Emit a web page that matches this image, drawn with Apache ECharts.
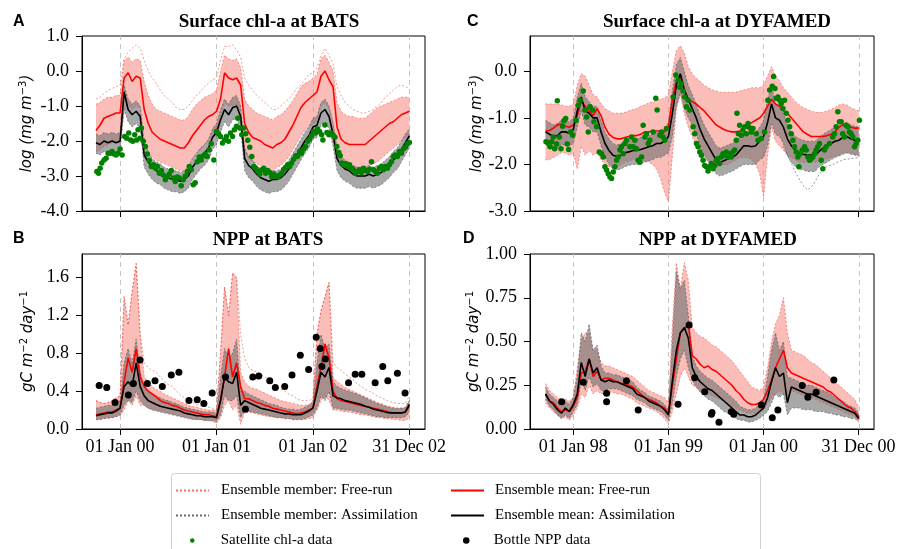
<!DOCTYPE html>
<html><head><meta charset="utf-8">
<script src="https://cdn.jsdelivr.net/npm/echarts@6/dist/echarts.min.js"></script>
<style>html,body{margin:0;padding:0;background:#fff}#c{width:899px;height:549px}</style>
</head><body><div id="c"></div>
<script>
// ---------- time grids (decimal years, semi-monthly) ----------
function grid24(start, n, end){ const a=[]; for(let i=0;i<n;i++) a.push(+(start+i/24).toFixed(4)); a.push(end); return a; }
const batsX = grid24(1999.75, 78, 2003.0);     // 01 Oct 1999 .. 31 Dec 2002
const dyfX  = grid24(1997.7083, 79, 2001.0);   // 16 Sep 1997 .. 31 Dec 2000

const batsTicks=[2000,2001,2002,2002.9973], batsLabels=['01 Jan 00','01 Jan 01','01 Jan 02','31 Dec 02'];
const dyfTicks=[1998,1999,2000,2000.9973],  dyfLabels=['01 Jan 98','01 Jan 99','01 Jan 00','31 Dec 00'];

// ---------- A: surface chl-a at BATS (log) ----------
const fmA=[-1.70,-1.55,-1.35,-1.30,-1.25,-1.20,-1.20,-0.20,-0.05,-0.30,-0.15,-0.20,-1.10,-1.50,-1.75,-1.85,-1.95,-2.00,-2.05,-2.10,-2.15,-2.20,-2.20,-2.05,-1.85,-1.70,-1.55,-1.40,-1.30,-1.25,
-1.15,-0.80,-0.05,-0.20,-0.25,-0.20,-0.40,-1.50,-1.75,-1.90,-1.95,-2.00,-2.10,-2.15,-2.20,-2.10,-2.05,-1.95,-1.75,-1.55,-1.30,-1.05,-0.90,-0.80,
-0.70,-0.60,-0.15,0.00,-0.25,-0.45,-1.60,-1.95,-2.05,-2.10,-2.10,-2.10,-2.10,-2.10,-2.00,-1.90,-1.80,-1.70,-1.60,-1.50,-1.45,-1.35,-1.25,-1.20,-1.15];
const amA=[-2.05,-2.10,-2.00,-2.05,-2.00,-2.05,-2.00,-0.60,-1.10,-1.25,-1.15,-1.30,-2.40,-2.60,-2.75,-2.85,-2.90,-3.00,-3.05,-3.10,-3.10,-3.15,-3.10,-3.00,-2.75,-2.60,-2.45,-2.35,-2.20,-1.90,
-1.75,-1.40,-1.10,-1.25,-1.05,-1.00,-1.30,-2.50,-2.70,-2.80,-2.95,-3.05,-3.10,-3.15,-3.10,-3.10,-3.05,-2.95,-2.80,-2.60,-2.40,-2.20,-2.00,-1.85,
-1.60,-1.55,-1.20,-1.10,-1.30,-1.80,-2.50,-2.70,-2.80,-2.85,-2.95,-3.00,-3.00,-3.00,-2.95,-3.00,-2.95,-2.90,-2.80,-2.70,-2.55,-2.45,-2.25,-2.05,-1.85];
const fhA=[-0.95,-0.90,-0.80,-0.75,-0.75,-0.70,-0.70,0.30,0.40,0.25,0.35,0.30,-0.30,-0.70,-0.95,-1.10,-1.15,-1.20,-1.25,-1.30,-1.35,-1.40,-1.40,-1.30,-1.10,-0.95,-0.85,-0.75,-0.70,-0.65,
-0.55,0.00,0.45,0.35,0.30,0.35,0.10,-0.80,-1.00,-1.10,-1.20,-1.25,-1.30,-1.35,-1.40,-1.30,-1.25,-1.15,-1.00,-0.85,-0.65,-0.45,-0.35,-0.30,
-0.20,-0.10,0.35,0.45,0.25,0.00,-0.90,-1.15,-1.25,-1.30,-1.30,-1.35,-1.35,-1.35,-1.25,-1.15,-1.05,-1.00,-0.95,-0.90,-0.85,-0.80,-0.75,-0.75,-0.75];
const flA=[-2.30,-2.25,-2.15,-2.10,-2.05,-2.05,-2.05,-1.10,-0.95,-1.10,-1.00,-1.05,-2.00,-2.30,-2.45,-2.55,-2.60,-2.65,-2.70,-2.75,-2.80,-2.85,-2.85,-2.70,-2.50,-2.35,-2.25,-2.10,-2.00,-1.90,
-1.80,-1.30,-0.90,-1.00,-1.00,-0.95,-1.20,-2.30,-2.50,-2.60,-2.65,-2.70,-2.75,-2.80,-2.85,-2.75,-2.70,-2.60,-2.45,-2.25,-2.05,-1.85,-1.70,-1.60,
-1.50,-1.45,-1.00,-0.90,-1.10,-1.50,-2.30,-2.60,-2.70,-2.70,-2.75,-2.75,-2.75,-2.75,-2.70,-2.65,-2.60,-2.50,-2.40,-2.30,-2.20,-2.10,-2.00,-1.90,-1.80];
const foA=[-0.80,-0.75,-0.65,-0.55,-0.50,-0.45,-0.40,0.35,0.55,0.65,0.75,0.65,0.30,0.00,-0.20,-0.35,-0.55,-0.70,-0.80,-0.90,-1.05,-1.10,-1.10,-1.00,-0.85,-0.70,-0.60,-0.45,-0.35,-0.25,
-0.20,0.30,0.70,0.70,0.75,0.60,0.40,-0.20,-0.40,-0.55,-0.70,-0.80,-0.90,-1.00,-1.10,-1.10,-1.00,-0.90,-0.80,-0.65,-0.50,-0.40,-0.25,-0.10,
-0.05,0.10,0.45,0.65,0.45,0.20,-0.45,-0.70,-0.90,-1.00,-1.10,-1.15,-1.20,-1.20,-1.15,-1.10,-1.00,-0.90,-0.75,-0.65,-0.55,-0.45,-0.40,-0.45,-0.50];
const ahA=[-1.80,-1.85,-1.75,-1.80,-1.75,-1.80,-1.75,-0.40,-0.80,-0.95,-0.85,-1.00,-2.05,-2.30,-2.50,-2.60,-2.65,-2.75,-2.80,-2.85,-2.85,-2.90,-2.85,-2.75,-2.50,-2.35,-2.20,-2.10,-1.95,-1.65,
-1.50,-1.10,-0.80,-0.95,-0.75,-0.70,-1.00,-2.20,-2.45,-2.55,-2.70,-2.80,-2.85,-2.90,-2.85,-2.85,-2.80,-2.70,-2.55,-2.35,-2.15,-1.95,-1.75,-1.60,
-1.35,-1.30,-0.90,-0.80,-1.00,-1.50,-2.20,-2.45,-2.55,-2.60,-2.70,-2.75,-2.75,-2.75,-2.70,-2.75,-2.70,-2.65,-2.55,-2.45,-2.30,-2.20,-2.00,-1.80,-1.65];
const alA=[-2.35,-2.40,-2.30,-2.35,-2.30,-2.35,-2.30,-1.10,-1.45,-1.60,-1.50,-1.65,-2.75,-2.95,-3.10,-3.20,-3.25,-3.35,-3.40,-3.45,-3.45,-3.50,-3.45,-3.35,-3.10,-2.95,-2.80,-2.70,-2.55,-2.25,
-2.10,-1.75,-1.45,-1.60,-1.40,-1.35,-1.65,-2.85,-3.05,-3.15,-3.30,-3.40,-3.45,-3.50,-3.45,-3.45,-3.40,-3.30,-3.15,-2.95,-2.75,-2.55,-2.35,-2.20,
-1.95,-1.90,-1.55,-1.45,-1.65,-2.15,-2.85,-3.05,-3.15,-3.20,-3.30,-3.35,-3.35,-3.35,-3.30,-3.35,-3.30,-3.25,-3.15,-3.05,-2.90,-2.80,-2.60,-2.40,-2.20];
const satA=[[1999.759,-2.87],[1999.776,-2.92],[1999.793,-2.78],[1999.810,-2.63],[1999.834,-2.54],[1999.855,-2.49],[1999.876,-2.35],[1999.897,-2.35],[1999.917,-2.30],[1999.938,-2.37],[1999.959,-2.40],[1999.979,-2.35],[2000.000,-2.23],[2000.021,-2.40],[2000.048,-1.87],[2000.069,-1.92],[2000.090,-1.77],[2000.110,-1.97],[2000.131,-2.01],[2000.152,-1.82],[2000.172,-1.97],[2000.186,-1.68],[2000.207,-1.92],[2000.221,-1.63],[2000.241,-2.01],[2000.262,-2.16],[2000.283,-2.37],[2000.303,-2.56],[2000.324,-2.73],[2000.345,-2.68],[2000.366,-2.78],[2000.386,-2.73],[2000.407,-2.92],[2000.428,-2.84],[2000.448,-2.97],[2000.469,-3.11],[2000.490,-3.02],[2000.510,-2.94],[2000.531,-2.84],[2000.552,-3.06],[2000.572,-3.16],[2000.593,-3.03],[2000.614,-3.06],[2000.634,-3.28],[2000.655,-3.11],[2000.676,-3.00],[2000.697,-2.87],[2000.717,-2.73],[2000.738,-2.82],[2000.759,-3.25],[2000.779,-3.19],[2000.800,-2.59],[2000.821,-2.46],[2000.841,-2.54],[2000.862,-2.42],[2000.883,-2.37],[2000.903,-2.44],[2000.924,-2.25],[2000.945,-2.08],[2000.972,-2.54],
[2001.000,-1.73],[2001.021,-1.79],[2001.041,-1.87],[2001.062,-2.06],[2001.083,-1.97],[2001.103,-1.87],[2001.124,-2.01],[2001.145,-1.77],[2001.166,-1.87],[2001.186,-1.68],[2001.207,-1.58],[2001.221,-1.35],[2001.241,-1.63],[2001.262,-1.82],[2001.283,-1.63],[2001.303,-1.79],[2001.324,-1.98],[2001.345,-2.18],[2001.366,-2.44],[2001.386,-2.73],[2001.407,-2.78],[2001.428,-2.87],[2001.448,-2.94],[2001.469,-2.82],[2001.490,-2.78],[2001.510,-2.92],[2001.531,-2.84],[2001.552,-2.90],[2001.572,-3.02],[2001.593,-2.94],[2001.614,-3.00],[2001.634,-3.03],[2001.655,-2.97],[2001.676,-2.92],[2001.697,-2.81],[2001.717,-2.75],[2001.738,-2.68],[2001.759,-2.73],[2001.779,-2.63],[2001.800,-2.52],[2001.821,-2.42],[2001.841,-2.44],[2001.862,-2.30],[2001.883,-2.35],[2001.903,-2.23],[2001.924,-2.16],[2001.945,-2.01],[2001.966,-1.95],[2001.986,-1.85],
[2002.007,-1.73],[2002.028,-1.77],[2002.048,-1.66],[2002.069,-1.73],[2002.090,-1.82],[2002.103,-1.97],[2002.124,-1.54],[2002.145,-1.76],[2002.166,-1.82],[2002.186,-1.77],[2002.207,-1.82],[2002.228,-1.89],[2002.248,-2.16],[2002.269,-2.33],[2002.283,-2.42],[2002.297,-2.63],[2002.317,-2.68],[2002.338,-2.65],[2002.359,-2.73],[2002.379,-2.68],[2002.400,-2.78],[2002.421,-2.82],[2002.441,-2.92],[2002.462,-2.87],[2002.483,-2.82],[2002.503,-2.90],[2002.524,-2.78],[2002.545,-2.84],[2002.566,-2.87],[2002.586,-2.81],[2002.607,-2.59],[2002.628,-2.82],[2002.648,-2.87],[2002.669,-2.92],[2002.690,-2.78],[2002.710,-2.73],[2002.731,-2.82],[2002.752,-2.73],[2002.772,-2.78],[2002.793,-2.68],[2002.814,-2.59],[2002.834,-2.44],[2002.855,-2.40],[2002.876,-2.44],[2002.897,-2.30],[2002.917,-2.35],[2002.938,-2.23],[2002.959,-2.18],[2002.979,-2.08],[2003.000,-2.04]];

// ---------- B: NPP at BATS ----------
const fmB=[0.15,0.16,0.17,0.18,0.18,0.20,0.22,0.50,0.75,0.60,0.85,0.55,0.45,0.40,0.37,0.34,0.30,0.28,0.27,0.25,0.24,0.22,0.20,0.19,0.18,0.17,0.16,0.15,0.15,0.14,
0.13,0.30,0.55,0.85,0.55,0.70,0.45,0.32,0.32,0.30,0.28,0.27,0.25,0.24,0.22,0.21,0.20,0.19,0.18,0.17,0.16,0.17,0.18,0.20,
0.22,0.45,0.65,0.90,0.75,0.40,0.32,0.30,0.29,0.28,0.27,0.26,0.25,0.24,0.23,0.22,0.21,0.20,0.19,0.18,0.17,0.17,0.17,0.18,0.24];
const amB=[0.14,0.15,0.16,0.17,0.17,0.19,0.22,0.45,0.50,0.45,0.70,0.45,0.35,0.30,0.28,0.26,0.24,0.23,0.22,0.21,0.20,0.19,0.17,0.16,0.15,0.14,0.14,0.13,0.13,0.13,
0.12,0.30,0.55,0.50,0.48,0.60,0.25,0.30,0.28,0.26,0.24,0.22,0.21,0.20,0.19,0.18,0.17,0.16,0.16,0.15,0.15,0.15,0.17,0.19,
0.22,0.40,0.60,0.55,0.65,0.35,0.33,0.32,0.30,0.29,0.28,0.27,0.26,0.24,0.23,0.21,0.20,0.19,0.18,0.17,0.17,0.17,0.17,0.18,0.26];
const fhB=[0.30,0.28,0.27,0.28,0.30,0.33,0.35,1.40,1.10,1.45,1.75,1.00,0.55,0.50,0.45,0.42,0.40,0.37,0.35,0.33,0.31,0.29,0.27,0.25,0.24,0.23,0.22,0.21,0.20,0.20,
0.20,0.80,1.50,1.20,1.65,1.60,0.60,0.50,0.45,0.43,0.42,0.40,0.38,0.36,0.34,0.32,0.30,0.29,0.28,0.27,0.26,0.25,0.25,0.26,
0.30,1.00,1.25,1.40,1.55,0.55,0.50,0.47,0.44,0.42,0.40,0.38,0.36,0.34,0.32,0.30,0.28,0.27,0.25,0.24,0.23,0.22,0.22,0.22,0.30];
const foB=[0.30,0.28,0.27,0.28,0.30,0.33,0.35,1.40,1.10,1.45,1.75,1.00,0.70,0.65,0.62,0.60,0.55,0.50,0.47,0.45,0.40,0.36,0.33,0.30,0.28,0.26,0.25,0.24,0.23,0.22,
0.20,0.80,1.50,1.20,1.65,1.60,1.00,0.75,0.65,0.62,0.60,0.58,0.55,0.52,0.48,0.45,0.42,0.40,0.37,0.35,0.32,0.30,0.30,0.30,
0.32,1.00,1.25,1.40,1.55,0.70,0.65,0.62,0.58,0.55,0.52,0.48,0.45,0.42,0.40,0.38,0.35,0.33,0.31,0.29,0.28,0.27,0.27,0.27,0.35];
const flB=[0.10,0.10,0.11,0.11,0.12,0.13,0.14,0.20,0.30,0.25,0.35,0.25,0.25,0.22,0.21,0.20,0.19,0.18,0.17,0.16,0.15,0.14,0.13,0.12,0.11,0.10,0.10,0.09,0.09,0.08,
0.06,0.12,0.25,0.30,0.20,0.25,0.05,0.18,0.18,0.17,0.16,0.15,0.14,0.13,0.13,0.12,0.12,0.11,0.11,0.10,0.10,0.10,0.10,0.11,
0.12,0.20,0.30,0.35,0.30,0.20,0.20,0.19,0.18,0.18,0.17,0.16,0.15,0.15,0.14,0.13,0.12,0.12,0.11,0.11,0.10,0.10,0.09,0.09,0.12];
const ahB=[0.22,0.23,0.24,0.25,0.25,0.27,0.30,0.70,0.85,0.70,0.95,0.60,0.45,0.40,0.37,0.35,0.33,0.31,0.30,0.28,0.27,0.25,0.23,0.22,0.21,0.20,0.19,0.18,0.18,0.18,
0.17,0.55,0.85,0.75,0.80,0.95,0.40,0.40,0.37,0.35,0.33,0.31,0.29,0.27,0.26,0.25,0.23,0.22,0.21,0.21,0.20,0.21,0.23,0.25,
0.28,0.70,1.00,0.85,0.90,0.50,0.45,0.43,0.41,0.40,0.38,0.37,0.35,0.33,0.31,0.29,0.27,0.26,0.24,0.23,0.22,0.22,0.22,0.23,0.30];
const alB=[0.10,0.10,0.11,0.12,0.12,0.13,0.15,0.25,0.30,0.28,0.40,0.30,0.25,0.22,0.20,0.19,0.18,0.17,0.16,0.15,0.14,0.13,0.12,0.11,0.10,0.10,0.10,0.09,0.09,0.09,
0.08,0.15,0.35,0.30,0.30,0.35,0.12,0.20,0.19,0.18,0.17,0.16,0.15,0.14,0.13,0.12,0.12,0.11,0.11,0.10,0.10,0.10,0.11,0.13,
0.15,0.22,0.35,0.30,0.40,0.22,0.22,0.21,0.20,0.20,0.19,0.18,0.17,0.16,0.15,0.14,0.13,0.13,0.12,0.12,0.12,0.12,0.12,0.13,0.18];
const bottleB=[[1999.783,0.46],[1999.862,0.44],[1999.948,0.28],[2000.086,0.36],[2000.138,0.48],[2000.207,0.73],[2000.283,0.48],[2000.362,0.51],[2000.438,0.45],[2000.531,0.57],[2000.610,0.60],[2000.714,0.30],[2000.800,0.31],[2000.869,0.27],[2000.955,0.38],
[2001.093,0.55],[2001.300,0.21],[2001.376,0.55],[2001.438,0.56],[2001.552,0.51],[2001.610,0.44],[2001.707,0.45],[2001.783,0.57],[2001.869,0.78],[2001.955,0.63],
[2002.034,0.97],[2002.076,0.85],[2002.093,0.66],[2002.128,0.74],[2002.369,0.49],[2002.438,0.58],[2002.507,0.58],[2002.645,0.49],[2002.724,0.66],[2002.776,0.51],[2002.876,0.59],[2002.955,0.38]];

// ---------- C: surface chl-a at DYFAMED (log) ----------
const fmC=[-1.28,-1.27,-1.22,-1.15,-1.13,-1.18,-1.20,-1.15,-0.95,-0.65,-0.75,-0.85,-0.95,-0.80,-0.95,-1.20,-1.35,-1.42,-1.45,-1.45,-1.42,-1.40,-1.38,-1.38,-1.35,-1.30,-1.30,-1.28,-1.28,-1.28,
-1.30,-1.20,-0.60,-0.20,-0.10,-0.40,-0.60,-0.65,-0.70,-0.78,-0.85,-0.95,-1.05,-1.15,-1.20,-1.25,-1.28,-1.30,-1.30,-1.28,-1.25,-1.15,-1.10,-1.05,-1.00,
-0.90,-0.75,-0.60,-0.70,-0.75,-0.85,-0.90,-1.00,-1.10,-1.20,-1.30,-1.35,-1.40,-1.40,-1.40,-1.40,-1.38,-1.35,-1.30,-1.20,-1.15,-1.18,-1.20,-1.22,-1.22];
const amC=[-1.30,-1.35,-1.40,-1.38,-1.30,-1.30,-1.33,-1.25,-0.85,-0.55,-0.85,-0.90,-1.00,-1.00,-1.30,-1.55,-1.70,-1.80,-1.83,-1.80,-1.75,-1.73,-1.70,-1.70,-1.68,-1.65,-1.62,-1.60,-1.55,-1.55,
-1.50,-1.40,-0.90,-0.30,-0.05,-0.40,-0.60,-0.80,-1.00,-1.25,-1.45,-1.60,-1.75,-1.90,-1.95,-1.92,-1.88,-1.85,-1.80,-1.70,-1.60,-1.60,-1.62,-1.60,-1.50,
-1.40,-1.10,-0.70,-1.00,-1.05,-1.20,-1.45,-1.60,-1.70,-1.75,-1.78,-1.80,-1.80,-1.80,-1.72,-1.65,-1.60,-1.55,-1.50,-1.48,-1.42,-1.40,-1.45,-1.48,-1.48];
const fhC=[-0.70,-0.70,-0.70,-0.70,-0.72,-0.75,-0.75,-0.70,-0.30,-0.05,-0.10,-0.30,-0.50,-0.55,-0.70,-0.80,-0.85,-0.90,-0.90,-0.90,-0.88,-0.85,-0.82,-0.80,-0.75,-0.72,-0.68,-0.65,-0.62,-0.60,
-0.58,-0.50,0.00,0.45,0.55,0.40,0.10,-0.05,-0.15,-0.22,-0.30,-0.35,-0.40,-0.42,-0.45,-0.45,-0.45,-0.45,-0.45,-0.42,-0.40,-0.38,-0.35,-0.35,-0.35,
-0.30,-0.10,0.10,-0.10,-0.20,-0.35,-0.45,-0.55,-0.65,-0.72,-0.78,-0.82,-0.85,-0.88,-0.88,-0.88,-0.85,-0.82,-0.78,-0.72,-0.70,-0.72,-0.78,-0.82,-0.85];
const flC=[-1.90,-1.90,-1.85,-1.80,-1.75,-1.75,-1.80,-1.75,-2.10,-1.60,-1.80,-1.70,-1.80,-1.75,-1.90,-2.00,-2.05,-2.05,-2.05,-2.00,-1.95,-1.92,-1.90,-1.90,-1.90,-1.92,-1.95,-2.00,-2.10,-2.30,
-2.60,-2.80,-1.80,-0.80,-0.50,-0.90,-1.20,-1.40,-1.60,-1.70,-1.80,-1.90,-1.95,-2.00,-2.00,-2.00,-2.00,-1.95,-1.90,-1.85,-1.85,-1.85,-1.90,-2.00,-2.20,
-2.70,-1.80,-1.20,-1.50,-1.60,-1.70,-1.80,-1.85,-1.90,-1.95,-1.95,-1.95,-1.95,-1.95,-1.92,-1.90,-1.88,-1.85,-1.82,-1.80,-1.75,-1.75,-1.75,-1.78,-1.80];
const ahC=[-1.05,-1.10,-1.15,-1.12,-1.05,-1.05,-1.08,-1.00,-0.55,-0.25,-0.55,-0.65,-0.75,-0.75,-1.05,-1.30,-1.45,-1.55,-1.58,-1.55,-1.50,-1.48,-1.45,-1.45,-1.42,-1.40,-1.38,-1.35,-1.30,-1.30,
-1.25,-1.10,-0.40,0.15,0.30,0.00,-0.30,-0.50,-0.70,-0.95,-1.15,-1.30,-1.45,-1.60,-1.65,-1.62,-1.58,-1.55,-1.50,-1.40,-1.30,-1.30,-1.32,-1.30,-1.20,
-1.05,-0.60,-0.30,-0.70,-0.75,-0.90,-1.15,-1.30,-1.40,-1.45,-1.48,-1.50,-1.50,-1.50,-1.42,-1.35,-1.30,-1.25,-1.20,-1.18,-1.12,-1.10,-1.15,-1.18,-1.20];
const alC=[-1.55,-1.60,-1.65,-1.65,-1.58,-1.58,-1.60,-1.55,-1.20,-0.85,-1.15,-1.20,-1.30,-1.30,-1.60,-1.85,-2.00,-2.10,-2.12,-2.10,-2.05,-2.02,-2.00,-2.00,-1.98,-1.95,-1.92,-1.90,-1.85,-1.85,
-1.80,-1.75,-1.40,-0.75,-0.45,-0.80,-1.00,-1.15,-1.35,-1.60,-1.80,-1.95,-2.05,-2.20,-2.25,-2.22,-2.18,-2.15,-2.10,-2.05,-2.00,-2.00,-2.00,-2.00,-1.90,
-1.85,-1.60,-1.10,-1.35,-1.40,-1.55,-1.80,-1.95,-2.05,-2.10,-2.12,-2.15,-2.15,-2.15,-2.05,-2.00,-1.95,-1.90,-1.85,-1.82,-1.78,-1.75,-1.78,-1.80,-1.82];
const goC=[[2000.203,-1.60],[2000.273,-1.90],[2000.343,-2.20],[2000.413,-2.45],[2000.465,-2.55],[2000.517,-2.45],[2000.587,-2.20],[2000.657,-2.05],[2000.727,-2.00],[2000.832,-1.90],[2001.000,-1.85]];
const satC=[[1997.713,-1.51],[1997.738,-1.55],[1997.755,-1.62],[1997.773,-1.51],[1997.790,-1.41],[1997.804,-1.66],[1997.825,-1.56],[1997.832,-0.63],[1997.853,-1.41],[1997.871,-1.66],[1997.888,-1.18],[1997.902,-1.06],[1997.920,-1.01],[1997.937,-1.56],[1997.951,-1.68],[1997.972,-1.30],[1997.993,-1.37],
[1998.028,-1.05],[1998.052,-0.73],[1998.070,-0.62],[1998.105,-0.42],[1998.122,-0.83],[1998.140,-0.98],[1998.157,-1.30],[1998.175,-0.76],[1998.203,-0.83],[1998.217,-1.08],[1998.245,-1.19],[1998.273,-1.73],[1998.297,-1.77],[1998.315,-1.84],[1998.332,-2.05],[1998.350,-2.12],[1998.367,-2.20],[1998.385,-2.27],[1998.402,-2.30],[1998.420,-2.16],[1998.437,-2.05],[1998.455,-1.91],[1998.472,-1.84],[1998.490,-1.69],[1998.507,-1.62],[1998.524,-1.77],[1998.542,-1.55],[1998.559,-1.48],[1998.594,-1.62],[1998.612,-1.41],[1998.629,-1.62],[1998.647,-1.48],[1998.664,-1.66],[1998.682,-1.91],[1998.699,-1.95],[1998.717,-1.84],[1998.734,-1.16],[1998.752,-1.41],[1998.769,-1.34],[1998.787,-1.55],[1998.804,-1.48],[1998.839,-1.30],[1998.867,-0.58],[1998.881,-0.83],[1998.909,-1.37],[1998.927,-1.30],[1998.944,-1.41],[1998.962,-1.48],[1998.979,-1.23],
[1999.049,-0.55],[1999.077,-0.08],[1999.101,-0.19],[1999.119,-0.34],[1999.136,-0.26],[1999.154,-0.42],[1999.171,-0.55],[1999.189,-0.76],[1999.206,-0.62],[1999.224,-0.83],[1999.259,-1.19],[1999.276,-1.34],[1999.294,-1.55],[1999.311,-1.62],[1999.329,-1.73],[1999.346,-1.80],[1999.364,-1.91],[1999.381,-2.02],[1999.399,-2.05],[1999.416,-2.14],[1999.434,-2.05],[1999.451,-1.98],[1999.469,-2.09],[1999.486,-2.02],[1999.503,-1.91],[1999.521,-1.87],[1999.538,-1.98],[1999.556,-1.84],[1999.573,-1.77],[1999.591,-1.80],[1999.608,-1.73],[1999.626,-1.84],[1999.643,-1.77],[1999.661,-1.84],[1999.678,-1.73],[1999.696,-1.69],[1999.713,-1.48],[1999.720,-0.90],[1999.734,-1.34],[1999.748,-1.16],[1999.766,-1.37],[1999.783,-1.26],[1999.801,-1.19],[1999.818,-1.34],[1999.836,-1.12],[1999.853,-1.21],[1999.871,-1.30],[1999.888,-1.23],[1999.923,-1.34],[1999.941,-1.48],[1999.976,-1.44],
[2000.010,-1.30],[2000.045,-0.62],[2000.063,-0.40],[2000.091,-0.32],[2000.105,-0.11],[2000.119,-0.37],[2000.133,-0.58],[2000.150,-0.55],[2000.168,-0.62],[2000.185,-0.69],[2000.203,-0.80],[2000.220,-0.62],[2000.238,-0.90],[2000.255,-1.05],[2000.273,-1.19],[2000.290,-1.34],[2000.308,-1.48],[2000.325,-1.62],[2000.343,-1.73],[2000.360,-1.84],[2000.371,-2.05],[2000.385,-1.77],[2000.406,-1.69],[2000.430,-1.62],[2000.448,-1.69],[2000.465,-1.84],[2000.483,-1.91],[2000.500,-1.87],[2000.517,-1.84],[2000.535,-1.77],[2000.552,-1.69],[2000.570,-1.62],[2000.587,-1.55],[2000.605,-1.91],[2000.622,-2.09],[2000.640,-1.69],[2000.657,-1.62],[2000.692,-1.55],[2000.727,-1.41],[2000.745,-1.34],[2000.762,-1.19],[2000.780,-0.87],[2000.797,-1.08],[2000.815,-1.08],[2000.832,-1.34],[2000.850,-1.41],[2000.867,-1.16],[2000.885,-1.19],[2000.902,-1.30],[2000.920,-1.34],[2000.937,-1.41],[2000.955,-1.62],[2000.972,-1.55],[2000.990,-1.48],[2001.007,-1.05]];

// ---------- D: NPP at DYFAMED ----------
const fmD=[0.20,0.16,0.15,0.12,0.10,0.11,0.10,0.13,0.18,0.32,0.33,0.40,0.30,0.33,0.28,0.29,0.29,0.28,0.27,0.26,0.26,0.25,0.24,0.22,0.20,0.18,0.17,0.16,0.15,0.13,
0.12,0.09,0.25,0.40,0.55,0.57,0.60,0.42,0.40,0.37,0.35,0.36,0.34,0.33,0.31,0.29,0.27,0.25,0.22,0.20,0.17,0.15,0.14,0.14,0.15,
0.17,0.22,0.28,0.35,0.40,0.45,0.35,0.32,0.31,0.30,0.29,0.28,0.27,0.26,0.25,0.24,0.22,0.21,0.19,0.17,0.15,0.13,0.12,0.10,0.07];
const amD=[0.20,0.16,0.14,0.11,0.09,0.12,0.10,0.14,0.20,0.38,0.30,0.40,0.32,0.35,0.28,0.27,0.28,0.27,0.27,0.26,0.25,0.24,0.23,0.20,0.19,0.18,0.16,0.15,0.14,0.13,
0.11,0.08,0.28,0.45,0.55,0.58,0.52,0.35,0.30,0.27,0.25,0.23,0.22,0.20,0.18,0.16,0.14,0.12,0.10,0.08,0.08,0.07,0.07,0.08,0.10,
0.12,0.18,0.27,0.35,0.30,0.32,0.15,0.24,0.23,0.22,0.21,0.20,0.20,0.19,0.18,0.17,0.16,0.15,0.14,0.13,0.12,0.11,0.10,0.09,0.06];
const fhD=[0.26,0.22,0.20,0.18,0.16,0.17,0.16,0.18,0.35,0.50,0.55,0.55,0.45,0.45,0.38,0.36,0.36,0.35,0.34,0.33,0.32,0.31,0.30,0.28,0.26,0.24,0.22,0.21,0.20,0.19,
0.18,0.15,0.60,0.95,0.80,0.95,0.85,0.58,0.55,0.53,0.52,0.50,0.48,0.47,0.45,0.43,0.41,0.39,0.36,0.33,0.30,0.27,0.24,0.23,0.22,
0.24,0.35,0.50,0.60,0.65,0.75,0.55,0.45,0.44,0.43,0.42,0.40,0.38,0.37,0.35,0.33,0.31,0.29,0.27,0.25,0.23,0.21,0.19,0.17,0.12];
const flD=[0.15,0.12,0.10,0.08,0.06,0.07,0.05,0.08,0.12,0.20,0.18,0.25,0.20,0.22,0.20,0.21,0.21,0.21,0.20,0.20,0.19,0.18,0.17,0.15,0.14,0.13,0.12,0.11,0.10,0.08,
0.06,0.03,0.10,0.20,0.30,0.35,0.30,0.25,0.24,0.22,0.20,0.20,0.19,0.18,0.17,0.16,0.14,0.13,0.12,0.11,0.10,0.09,0.09,0.09,0.10,
0.11,0.15,0.18,0.20,0.22,0.20,0.18,0.22,0.21,0.20,0.19,0.19,0.18,0.17,0.16,0.15,0.14,0.13,0.12,0.11,0.10,0.09,0.08,0.07,0.05];
const ahD=[0.24,0.20,0.18,0.16,0.14,0.16,0.14,0.18,0.30,0.55,0.50,0.60,0.45,0.48,0.36,0.32,0.32,0.31,0.31,0.30,0.29,0.28,0.27,0.24,0.22,0.21,0.19,0.18,0.17,0.16,
0.14,0.11,0.50,0.90,0.80,0.85,0.65,0.42,0.36,0.33,0.31,0.29,0.28,0.26,0.24,0.22,0.20,0.18,0.16,0.13,0.12,0.11,0.11,0.12,0.14,
0.17,0.30,0.45,0.55,0.45,0.50,0.30,0.29,0.28,0.27,0.26,0.25,0.25,0.24,0.23,0.22,0.21,0.20,0.18,0.17,0.16,0.14,0.13,0.12,0.09];
const alD=[0.17,0.13,0.11,0.08,0.06,0.08,0.06,0.10,0.14,0.28,0.22,0.30,0.24,0.26,0.22,0.22,0.23,0.23,0.23,0.22,0.21,0.20,0.19,0.17,0.16,0.15,0.13,0.12,0.11,0.10,
0.08,0.05,0.15,0.30,0.40,0.45,0.35,0.28,0.24,0.21,0.19,0.17,0.16,0.14,0.12,0.10,0.09,0.08,0.06,0.05,0.05,0.04,0.04,0.05,0.06,
0.08,0.10,0.15,0.20,0.18,0.20,0.08,0.12,0.12,0.12,0.11,0.11,0.11,0.10,0.10,0.10,0.09,0.09,0.08,0.08,0.07,0.07,0.06,0.06,0.04];
const bottleD=[[1997.878,0.156],[1998.105,0.267],[1998.350,0.204],[1998.350,0.156],[1998.559,0.276],[1998.682,0.109],[1999.101,0.141],[1999.217,0.594],[1999.276,0.293],[1999.381,0.213],[1999.451,0.084],[1999.458,0.095],[1999.531,0.038],[1999.661,0.099],[1999.685,0.084],[1999.976,0.137],[2000.091,0.065],[2000.150,0.109],[2000.406,0.248],[2000.465,0.181],[2000.552,0.210],[2000.738,0.280]];

// ---------- styles ----------
const SERIF='Liberation Serif';
const FR_BAND='rgba(245,135,125,0.55)', AS_BAND='rgba(115,115,115,0.62)';
const FR_LINE='rgba(238,60,50,0.75)', AS_LINE='rgba(80,80,80,0.85)';
const N_FM='Ensemble member: Free-run', N_AM='Ensemble member: Assimilation';
const N_FMEAN='Ensemble mean: Free-run', N_AMEAN='Ensemble mean: Assimilation';
const N_SAT='Satellite chl-a data', N_BOT='Bottle NPP data';

function pair(xs, ys){ return xs.map((x,i)=>[x, ys[i]]); }
function labFn(ticks, labels){ return v => { let k=0,b=1e9; ticks.forEach((t,i)=>{const d=Math.abs(t-v); if(d<b){b=d;k=i;}}); return labels[k]; }; }

// spread of an ensemble: polygon between the lowest and highest member, positioned by the axes
function band(g, xs, lo, hi, fill, z){
  return {type:'custom', xAxisIndex:g, yAxisIndex:g, silent:true, animation:false, z,
    data:xs.map((x,i)=>[x, lo[i], hi[i]]), encode:{x:0, y:[1,2]},
    renderItem:(params, api)=>{
      if(params.dataIndex!==0) return null;
      const top=[], bot=[];
      for(let i=0;i<xs.length;i++){ top.push(api.coord([xs[i], hi[i]])); bot.push(api.coord([xs[i], lo[i]])); }
      return {type:'polygon', shape:{points:top.concat(bot.reverse())}, style:{fill}};
    }};
}

const series=[];
function panel(g, xs, d, ticks, obs, obsName, obsColor, obsSize){
  const base={type:'line', xAxisIndex:g, yAxisIndex:g, symbol:'none', silent:true, animation:false};
  series.push({...base, data:pair(xs,d.fm), lineStyle:{opacity:0}, z:0,
    markLine:{silent:true, symbol:'none', z:0, animation:false, label:{show:false}, lineStyle:{type:[5,4], color:'#c4c4c4', width:1},
      data:ticks.map(v=>({xAxis:v}))}});
  series.push(band(g, xs, d.fl, d.fh, FR_BAND, 1));
  const fs={type:[2,2], width:0.7, color:FR_LINE};
  series.push({...base, name:N_FM, data:pair(xs,d.fh), lineStyle:fs, itemStyle:{color:FR_LINE}, z:2});
  series.push({...base, name:N_FM, data:pair(xs,d.fl), lineStyle:fs, itemStyle:{color:FR_LINE}, z:2});
  if(d.fo) series.push({...base, name:N_FM, data:pair(xs,d.fo), lineStyle:fs, itemStyle:{color:FR_LINE}, z:2});
  series.push(band(g, xs, d.al, d.ah, AS_BAND, 3));
  const as={type:[2,2], width:0.7, color:AS_LINE};
  series.push({...base, name:N_AM, data:pair(xs,d.ah), lineStyle:as, itemStyle:{color:AS_LINE}, z:4});
  series.push({...base, name:N_AM, data:pair(xs,d.al), lineStyle:as, itemStyle:{color:AS_LINE}, z:4});
  if(d.go) series.push({...base, name:N_AM, data:d.go, lineStyle:as, itemStyle:{color:AS_LINE}, z:4});
  series.push({...base, name:N_FMEAN, data:pair(xs,d.fm), lineStyle:{width:1.6, color:'#ff0000'}, itemStyle:{color:'#ff0000'}, z:5});
  series.push({...base, name:N_AMEAN, data:pair(xs,d.am), lineStyle:{width:1.6, color:'#000000'}, itemStyle:{color:'#000'}, z:6});
  series.push({type:'scatter', name:obsName, xAxisIndex:g, yAxisIndex:g, data:obs, symbolSize:obsSize, itemStyle:{color:obsColor, opacity:1}, silent:true, animation:false, z:7});
}
panel(0, batsX, {fm:fmA, am:amA, fh:fhA, fl:flA, fo:foA, ah:ahA, al:alA}, batsTicks, satA, N_SAT, '#008000', 5.5);
panel(1, dyfX,  {fm:fmC, am:amC, fh:fhC, fl:flC, ah:ahC, al:alC, go:goC}, dyfTicks, satC, N_SAT, '#008000', 5.5);
panel(2, batsX, {fm:fmB, am:amB, fh:fhB, fl:flB, fo:foB, ah:ahB, al:alB}, batsTicks, bottleB, N_BOT, '#000000', 7);
panel(3, dyfX,  {fm:fmD, am:amD, fh:fhD, fl:flD, ah:ahD, al:alD}, dyfTicks, bottleD, N_BOT, '#000000', 7);

const grids=[{left:82,top:36,width:343,height:175},{left:530,top:36,width:344,height:175},
             {left:82,top:254,width:343,height:175},{left:530,top:254,width:344,height:175}]
  .map(g=>({...g, show:true, borderColor:'#000', borderWidth:1, backgroundColor:'transparent'}));

function xAx(g, min, max, ticks, labels, show){
  return {type:'value', gridIndex:g, min, max, axisLine:{show:true, onZero:false, lineStyle:{color:'#000',width:1}},
    axisTick:{show:true, customValues:ticks, length:6, lineStyle:{color:'#000'}},
    axisLabel:{show:show, customValues:ticks, formatter:labFn(ticks,labels), fontFamily:SERIF, fontSize:18, color:'#000', margin:9},
    splitLine:{show:false}};
}
const rich={i:{fontFamily:'DejaVu Sans', fontStyle:'italic', fontSize:15, color:'#000'}, s:{fontFamily:'DejaVu Sans', fontSize:10, color:'#000', padding:[0,0,8,0]}};
function yAx(g, min, max, ticks, dec, name, gap){
  return {type:'value', gridIndex:g, min, max, axisLine:{show:true, onZero:false, lineStyle:{color:'#000',width:1}},
    axisTick:{show:true, customValues:ticks, length:6, lineStyle:{color:'#000'}},
    axisLabel:{customValues:ticks, formatter:v=>v.toFixed(dec), fontFamily:SERIF, fontSize:18, color:'#000', margin:13},
    splitLine:{show:false}, name, nameLocation:'middle', nameRotate:90, nameGap:gap, nameTextStyle:{rich}};
}
const chlName='{i|log (mg m}{s|−3}{i|)}';
const nppName='{i|gC m}{s|−2}{i| day}{s|−1}';

const legendText={fontFamily:SERIF, fontSize:15, color:'#000'};
function leg(name, left, cy, h, pad, hideSymbol){
  const o={data:[name], left, top:cy-9, orient:'horizontal', itemWidth:33, itemHeight:h, padding:0, selectedMode:false,
    textStyle:{...legendText, padding:[0,0,0,pad]}, z:10};
  if(hideSymbol) o.itemStyle={opacity:0};
  return o;
}

const option={
  animation:false, backgroundColor:'#fff',
  grid:grids,
  xAxis:[xAx(0,1999.605,2003.162,batsTicks,batsLabels,false), xAx(1,1997.545,2001.16,dyfTicks,dyfLabels,false),
         xAx(2,1999.605,2003.162,batsTicks,batsLabels,true),  xAx(3,1997.545,2001.16,dyfTicks,dyfLabels,true)],
  yAxis:[yAx(0,-4,1,[-4,-3,-2,-1,0,1],1,chlName,46), yAx(1,-3,0.76,[-3,-2,-1,0],1,chlName,44),
         yAx(2,0,1.85,[0,0.4,0.8,1.2,1.6],1,nppName,45), yAx(3,0,1.0,[0,0.25,0.5,0.75,1.0],2,nppName,44)],
  legend:[leg(N_FM,175,492,14,7,true), leg(N_AM,175,517,14,7,true), leg(N_SAT,190,542,4.5,7,false),
          leg(N_FMEAN,450,492,14,6,true), leg(N_AMEAN,450,517,14,6,true), leg(N_BOT,463,542,6.5,6,false)],
  graphic:[
    {type:'rect', shape:{x:171.5,y:473.5,width:589,height:90,r:3}, style:{fill:'#fff', stroke:'#d0d0d0', lineWidth:1}, z:-10, silent:true},
    {type:'text', x:13, y:22, style:{text:'A', font:'bold 16px "Liberation Sans"', fill:'#000', textVerticalAlign:'middle'}},
    {type:'text', x:13, y:239, style:{text:'B', font:'bold 16px "Liberation Sans"', fill:'#000', textVerticalAlign:'middle'}},
    {type:'text', x:467, y:22, style:{text:'C', font:'bold 16px "Liberation Sans"', fill:'#000', textVerticalAlign:'middle'}},
    {type:'text', x:463, y:239, style:{text:'D', font:'bold 16px "Liberation Sans"', fill:'#000', textVerticalAlign:'middle'}},
    {type:'text', x:269, y:22, style:{text:'Surface chl-a at BATS', font:'bold 19px "Liberation Serif"', fill:'#000', textAlign:'center', textVerticalAlign:'middle'}},
    {type:'text', x:717, y:22, style:{text:'Surface chl-a at DYFAMED', font:'bold 19px "Liberation Serif"', fill:'#000', textAlign:'center', textVerticalAlign:'middle'}},
    {type:'text', x:268, y:240, style:{text:'NPP at BATS', font:'bold 19px "Liberation Serif"', fill:'#000', textAlign:'center', textVerticalAlign:'middle'}},
    {type:'text', x:718, y:240, style:{text:'NPP at DYFAMED', font:'bold 19px "Liberation Serif"', fill:'#000', textAlign:'center', textVerticalAlign:'middle'}}
  ],
  series
};
const chart=echarts.init(document.getElementById('c'), null, {renderer:'canvas'});
chart.setOption(option);
</script></body></html>
